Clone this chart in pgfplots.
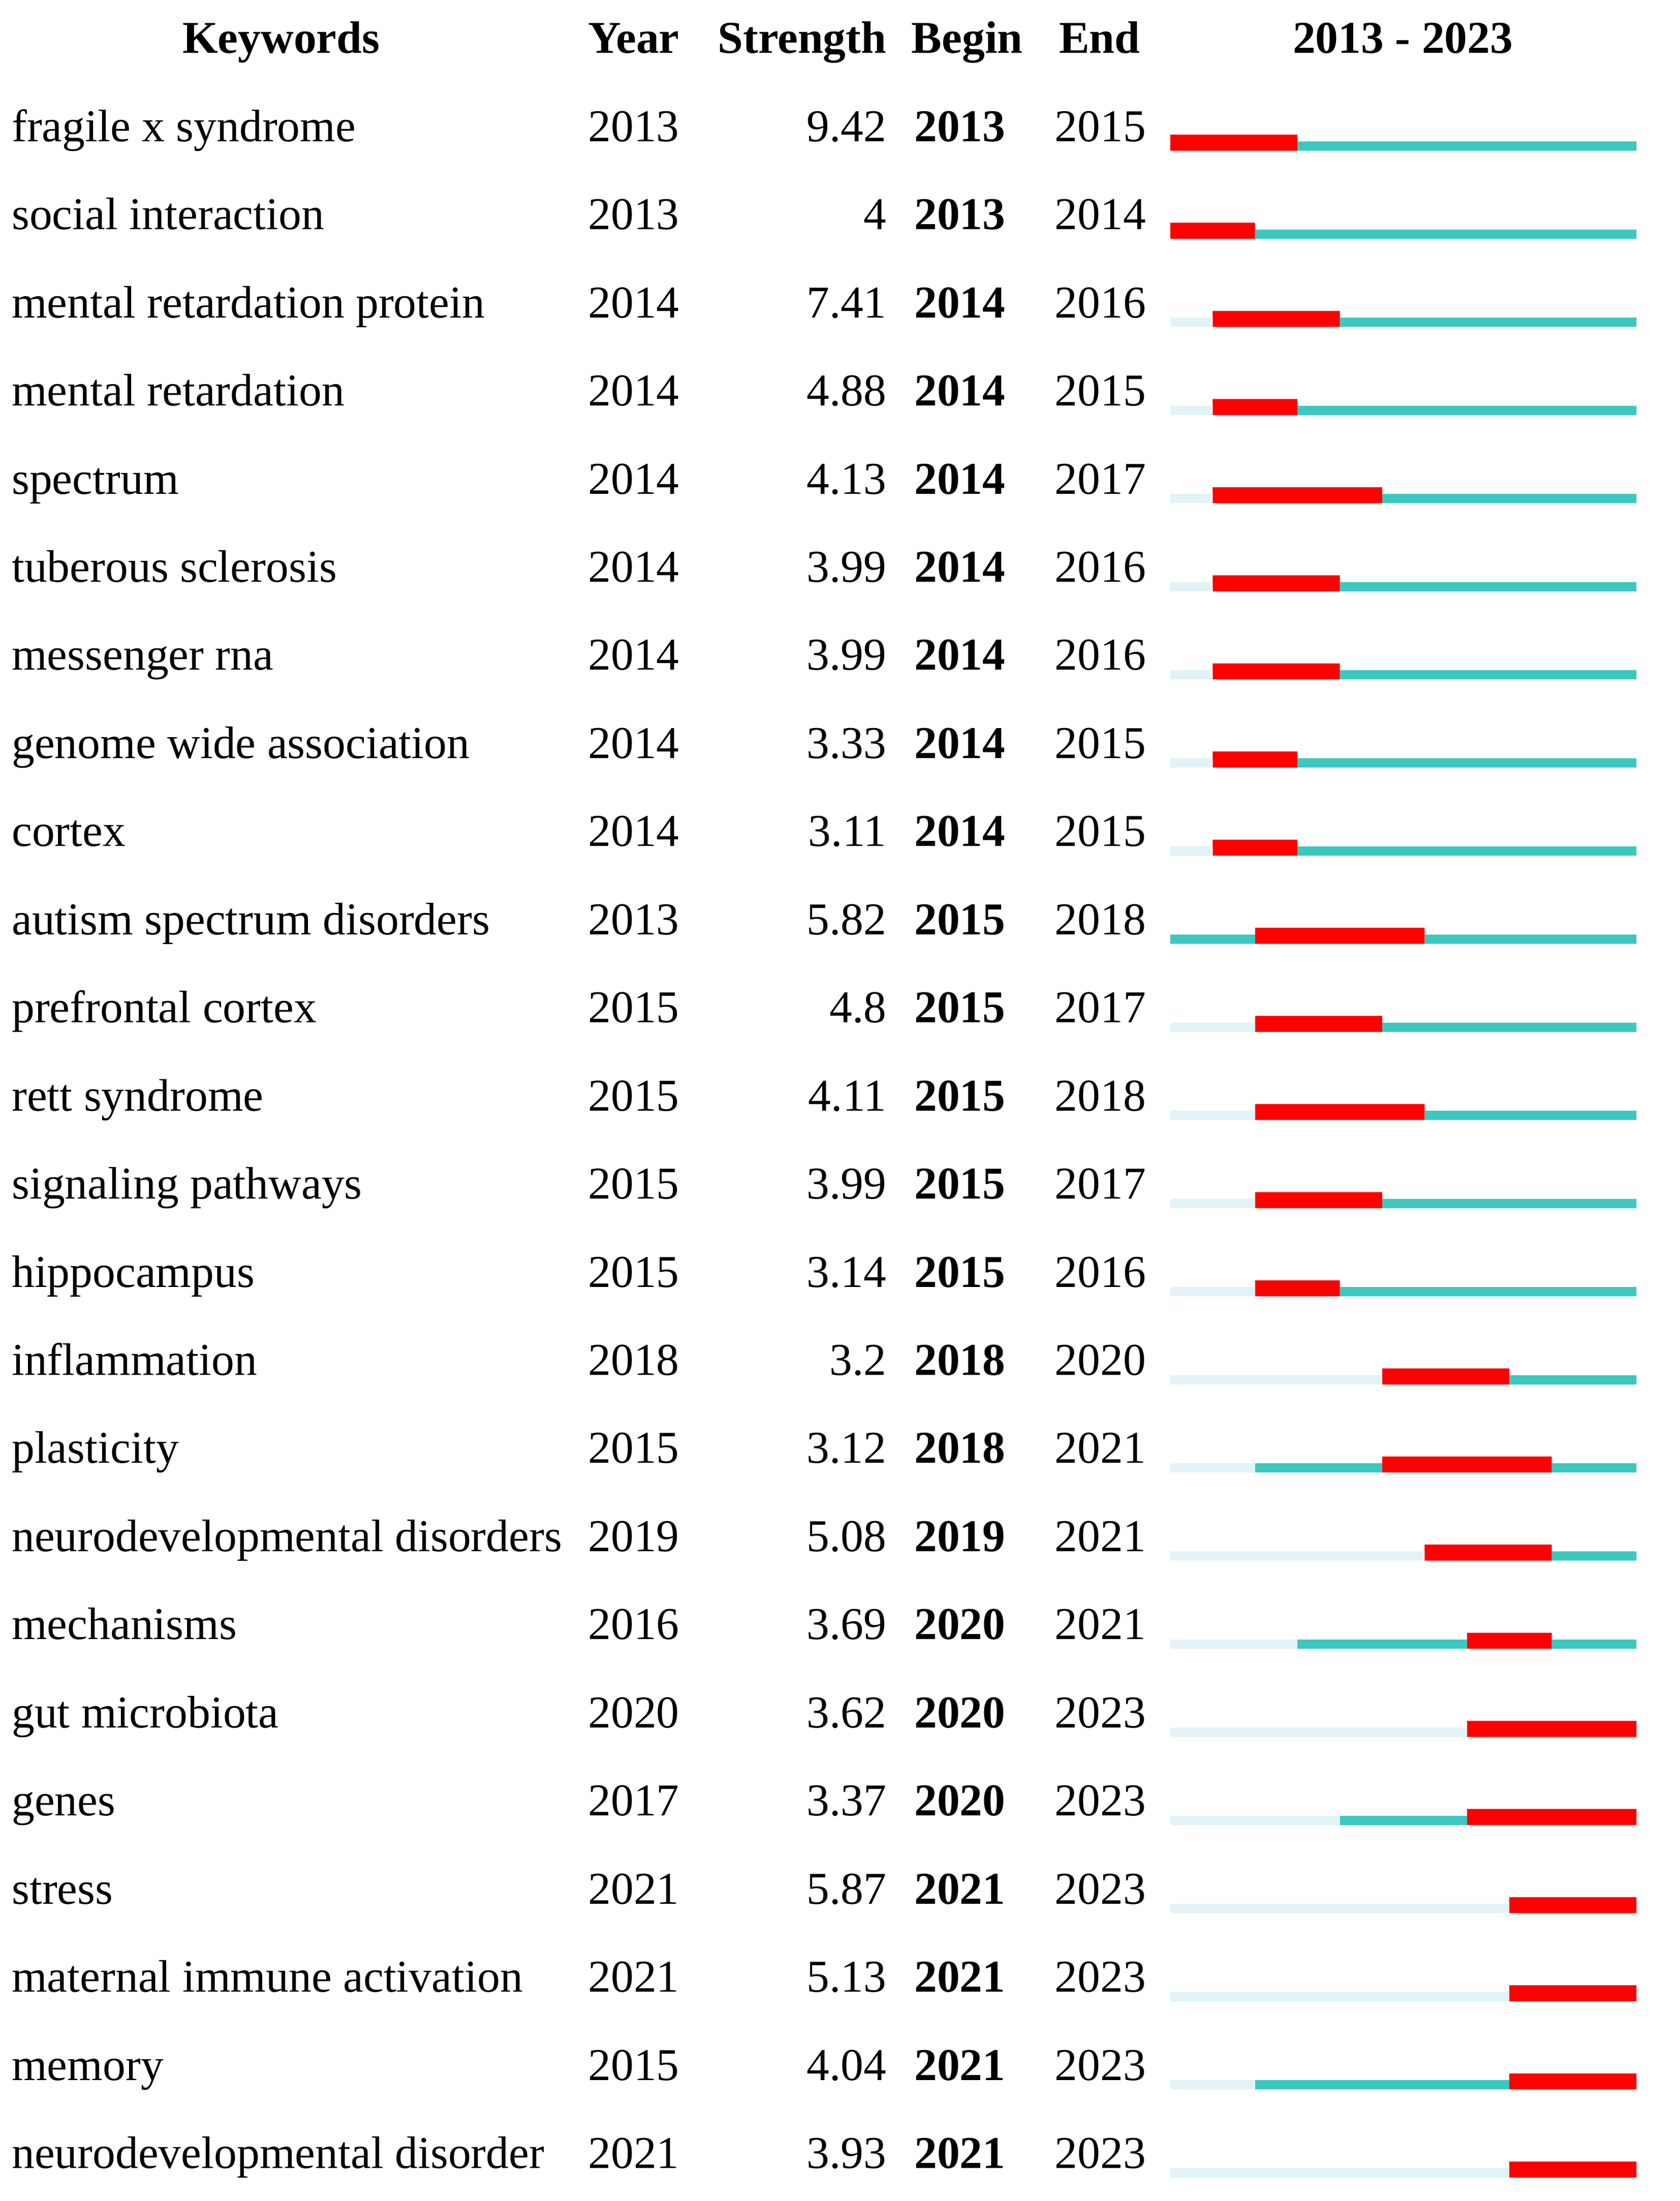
\documentclass[border=0pt]{standalone}
\usepackage{fontspec}
\setmainfont{Liberation Serif}
\usepackage{pgfplots}
\usepackage{pgfplotstable}
\pgfplotsset{compat=1.18}

\definecolor{burst}{RGB}{255,0,0}
\definecolor{seen}{RGB}{60,200,192}
\definecolor{unseen}{RGB}{226,243,245}

\newcommand\cellfont{\fontsize{16.2}{19}\selectfont}

% keyword, first year, burst strength, burst begin and end
\pgfplotstableread[col sep=comma]{
row,kw,year,str,begin,end
1,fragile x syndrome,2013,9.42,2013,2015
2,social interaction,2013,4,2013,2014
3,mental retardation protein,2014,7.41,2014,2016
4,mental retardation,2014,4.88,2014,2015
5,spectrum,2014,4.13,2014,2017
6,tuberous sclerosis,2014,3.99,2014,2016
7,messenger rna,2014,3.99,2014,2016
8,genome wide association,2014,3.33,2014,2015
9,cortex,2014,3.11,2014,2015
10,autism spectrum disorders,2013,5.82,2015,2018
11,prefrontal cortex,2015,4.8,2015,2017
12,rett syndrome,2015,4.11,2015,2018
13,signaling pathways,2015,3.99,2015,2017
14,hippocampus,2015,3.14,2015,2016
15,inflammation,2018,3.2,2018,2020
16,plasticity,2015,3.12,2018,2021
17,neurodevelopmental disorders,2019,5.08,2019,2021
18,mechanisms,2016,3.69,2020,2021
19,gut microbiota,2020,3.62,2020,2023
20,genes,2017,3.37,2020,2023
21,stress,2021,5.87,2021,2023
22,maternal immune activation,2021,5.13,2021,2023
23,memory,2015,4.04,2021,2023
24,neurodevelopmental disorder,2021,3.93,2021,2023
}\bursts

\pgfplotsset{
  frame/.style={width=597.5pt, height=783pt, scale only axis, hide axis,
    y dir=reverse, ymin=-0.6045, ymax=24.372, clip=false},
  txt/.style={draw=none, nodes near coords, point meta=explicit symbolic,
    nodes near coords style={font=\cellfont, inner sep=0pt, anchor=base west}},
}

\begin{document}
\begin{tikzpicture}
% text columns, x in pixels of the original table
\begin{axis}[frame, xmin=0, xmax=1195]
\path (rel axis cs:0,0) rectangle (rel axis cs:1,1);
\addplot[txt] table[x expr=8, y=row, meta=kw] {\bursts};
\addplot[txt] table[x expr=418, y=row, meta=year] {\bursts};
\addplot[txt, nodes near coords style={anchor=base east}] table[x expr=631, y=row, meta=str] {\bursts};
\addplot[txt, nodes near coords style={font=\cellfont\bfseries}] table[x expr=650, y=row, meta=begin] {\bursts};
\addplot[txt] table[x expr=750, y=row, meta=end] {\bursts};
\begin{scope}[every node/.style={font=\cellfont\bfseries, inner sep=0pt}]
\node[anchor=base] at (axis cs:200,0) {Keywords};
\node[anchor=base west] at (axis cs:418,0) {Year};
\node[anchor=base east] at (axis cs:631,0) {Strength};
\node[anchor=base west] at (axis cs:648,0) {Begin};
\node[anchor=base west] at (axis cs:753,0) {End};
\node[anchor=base] at (axis cs:998,0) {2013 - 2023};
\end{scope}
\end{axis}
% timeline bars, x in years after 2013; thin lines sit on the red bars' lower edge
\begin{axis}[frame, xmin=-27.6119, xmax=12.0232, xbar stacked]
\addplot[fill=unseen, draw=none, bar width=3.3pt, bar shift=-1.65pt]
  table[x expr=\thisrow{year}-2013, y=row] {\bursts};
\addplot[fill=seen, draw=none, bar width=3.3pt, bar shift=-1.65pt]
  table[x expr=\thisrow{begin}-\thisrow{year}, y=row] {\bursts};
\addplot[fill=burst, draw=none, bar width=5.7pt, bar shift=-0.45pt]
  table[x expr=\thisrow{end}+1-\thisrow{begin}, y=row] {\bursts};
\addplot[fill=seen, draw=none, bar width=3.3pt, bar shift=-1.65pt]
  table[x expr=2023-\thisrow{end}, y=row] {\bursts};
\end{axis}
\end{tikzpicture}
\end{document}
